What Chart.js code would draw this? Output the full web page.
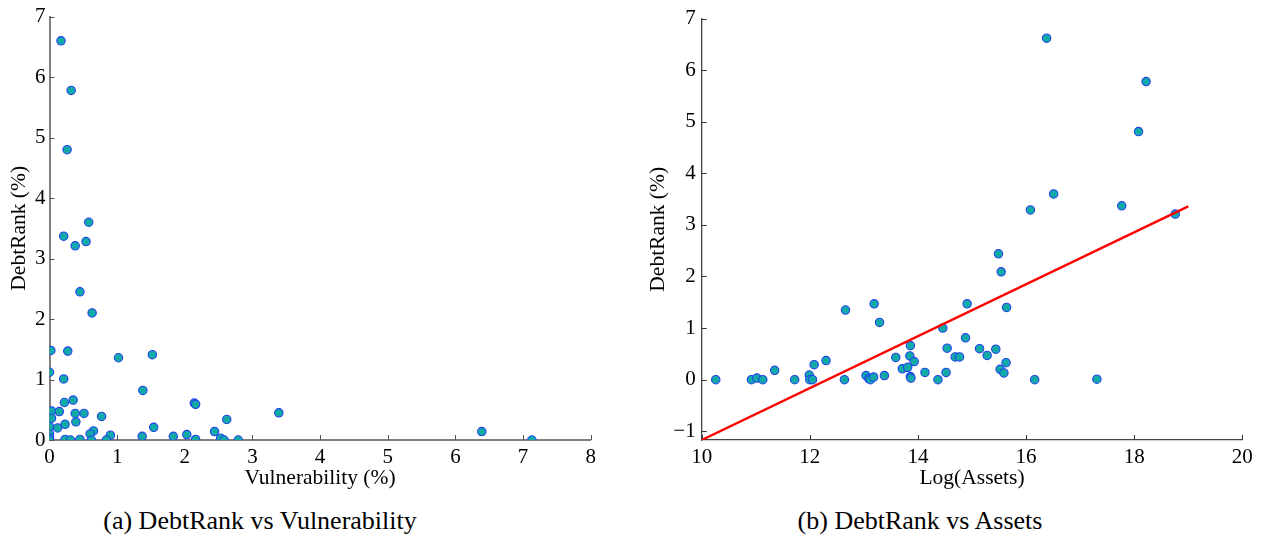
<!DOCTYPE html>
<html>
<head>
<meta charset="utf-8">
<script src="https://cdn.jsdelivr.net/npm/chart.js@4/dist/chart.umd.min.js"></script>
<style>
  html, body { margin: 0; padding: 0; background: #fff; }
  body { width: 1267px; height: 538px; position: relative; overflow: hidden; font-family: "Liberation Serif", serif; }
  canvas { position: absolute; top: 0; }
  #chartA { left: 0; }
  #chartB { left: 630px; }
  .caption { position: absolute; top: 506px; height: 30px; line-height: 30px; font-size: 26px; text-align: center; color: #000; white-space: nowrap; }
</style>
</head>
<body>
<canvas id="chartA" width="620" height="495"></canvas>
<canvas id="chartB" width="637" height="495"></canvas>
<div class="caption" style="left:60px;width:400px;">(a) DebtRank vs Vulnerability</div>
<div class="caption" style="left:720px;width:400px;">(b) DebtRank vs Assets</div>

<script>
// ===== DATA =====
// (a) DebtRank vs Vulnerability
const vulnX = [0.17, 0.32, 0.26, 0.58, 0.21, 0.54, 0.38, 0.45, 0.63, 0.02,
               0.27, 1.02, 1.52, 0.00, 0.21, 1.38, 2.14, 2.16, 3.39, 6.39,
               7.13, 2.62, 1.54, 0.77, 0.22, 0.35, 0.03, 0.145, 0.38, 0.51,
               0.03, 0.39, 0.23, 0.00, 0.12, 0.65, 0.60, 0.90, 1.37, 0.00,
               0.00, 0.00, 0.23, 0.31, 0.45, 0.62, 0.84, 1.83, 2.03, 2.16,
               2.44, 2.53, 2.58, 2.79];
const vulnRank = [6.60, 5.78, 4.80, 3.60, 3.37, 3.28, 3.21, 2.45, 2.10, 1.48,
                  1.47, 1.36, 1.41, 1.12, 1.01, 0.82, 0.61, 0.59, 0.45, 0.14,
                  0.00, 0.34, 0.21, 0.39, 0.62, 0.66, 0.48, 0.47, 0.44, 0.44,
                  0.36, 0.30, 0.26, 0.22, 0.20, 0.15, 0.10, 0.08, 0.06, 0.10,
                  0.03, 0.00, 0.01, 0.00, 0.01, 0.00, 0.00, 0.06, 0.09, 0.01,
                  0.14, 0.03, 0.00, 0.00];

// (b) DebtRank vs Assets
const assetsX = [10.26, 10.92, 11.02, 11.13, 11.35, 11.72, 11.99, 12.00, 12.05, 12.08,
                 12.30, 12.66, 12.64, 13.19, 13.29, 13.04, 13.09, 13.12, 13.18, 13.38,
                 13.59, 13.71, 13.81, 13.86, 13.85, 13.93, 13.86, 13.87, 14.13, 14.37,
                 14.46, 14.54, 14.52, 14.69, 14.77, 14.88, 14.91, 15.14, 15.28, 15.44,
                 15.49, 15.54, 15.64, 15.63, 15.52, 15.59, 16.16, 17.31, 16.08, 16.38,
                 16.51, 17.77, 18.08, 18.22, 18.76];
const assetsRank = [0.00, 0.00, 0.03, 0.00, 0.18, 0.00, 0.09, 0.00, 0.00, 0.29,
                    0.37, 1.35, 0.00, 1.47, 1.11, 0.08, 0.02, 0.00, 0.05, 0.08,
                    0.43, 0.21, 0.24, 0.66, 0.46, 0.35, 0.06, 0.03, 0.14, 0.00,
                    1.00, 0.61, 0.14, 0.44, 0.44, 0.81, 1.47, 0.60, 0.47, 0.59,
                    2.44, 2.09, 1.40, 0.33, 0.20, 0.13, 0.00, 0.01, 3.29, 6.62,
                    3.60, 3.37, 4.81, 5.78, 3.21];
const fitX = [10, 19];
const fitY = [-1.17, 3.36];

// tick labels
const xTicksA = [0, 1, 2, 3, 4, 5, 6, 7, 8];
const yTicksA = [0, 1, 2, 3, 4, 5, 6, 7];
const xTicksB = [10, 12, 14, 16, 18, 20];
const yTicksB = [-1, 0, 1, 2, 3, 4, 5, 6, 7];

const toPoints = (xs, ys) => xs.map((x, i) => ({ x, y: ys[i] }));
const fmtTick = v => v < 0 ? '\u2212' + Math.abs(v) : String(v);

const SERIF = '"Liberation Serif", "Times New Roman", serif';
const MARKER_FILL = '#12aaa6';
const MARKER_EDGE = '#2340f0';

// inward tick marks (MATLAB style), positions come from the scales
const inwardTicks = {
  id: 'inwardTicks',
  beforeDatasetsDraw(chart, args, opts) {
    const { ctx, chartArea, scales } = chart;
    const len = opts.len || 5;
    ctx.save();
    ctx.strokeStyle = opts.color;
    ctx.lineWidth = opts.width;
    ctx.beginPath();
    scales.x.ticks.forEach(t => {
      const px = Math.round(scales.x.getPixelForValue(t.value)) + 0.5;
      ctx.moveTo(px, chartArea.bottom);
      ctx.lineTo(px, chartArea.bottom - len);
    });
    scales.y.ticks.forEach(t => {
      const py = Math.round(scales.y.getPixelForValue(t.value)) + 0.5;
      ctx.moveTo(chartArea.left, py);
      ctx.lineTo(chartArea.left + len, py);
    });
    ctx.stroke();
    ctx.restore();
  }
};

function axis(cfg) {
  return {
    type: 'linear',
    min: cfg.min,
    max: cfg.max,
    afterBuildTicks: s => { s.ticks = cfg.ticks.map(v => ({ value: v })); },
    afterFit: cfg.afterFit,
    grid: { display: false, drawTicks: false },
    border: { display: true, color: cfg.color, width: cfg.width },
    ticks: { color: '#000', padding: cfg.pad, font: { family: SERIF, size: 21 }, callback: fmtTick },
    title: { display: true, text: cfg.title, color: '#000', padding: 0, font: { family: SERIF, size: 21.5 } }
  };
}

function baseOptions(pad, xAxis, yAxis, tickColor, tickWidth) {
  return {
    responsive: false,
    animation: false,
    devicePixelRatio: 1,
    layout: { padding: pad },
    plugins: {
      legend: { display: false },
      tooltip: { enabled: false },
      inwardTicks: { color: tickColor, width: tickWidth, len: 5 }
    },
    scales: { x: xAxis, y: yAxis }
  };
}

// ===== (a) =====
new Chart(document.getElementById('chartA'), {
  type: 'scatter',
  data: {
    datasets: [{
      data: toPoints(vulnX, vulnRank),
      pointRadius: 4.2,
      pointBorderWidth: 1.1,
      pointBackgroundColor: MARKER_FILL,
      pointBorderColor: MARKER_EDGE
    }]
  },
  options: baseOptions(
    { left: 6.1, top: 14, right: 29.3, bottom: 4.1 },
    axis({ min: 0, max: 8, ticks: xTicksA, title: 'Vulnerability (%)', color: '#808080', width: 2, pad: 5,
           afterFit: s => { s.height = 50.9; } }),
    axis({ min: 0, max: 7, ticks: yTicksA, title: 'DebtRank (%)', color: '#808080', width: 2, pad: 4,
           afterFit: s => { s.width = 43.4; } }),
    '#555', 1
  ),
  plugins: [inwardTicks]
});

// ===== (b) =====
new Chart(document.getElementById('chartB'), {
  type: 'scatter',
  data: {
    datasets: [{
      type: 'line',
      data: toPoints(fitX, fitY),
      borderColor: '#ff0000',
      borderWidth: 2.4,
      pointRadius: 0,
      fill: false,
      order: 0
    }, {
      data: toPoints(assetsX, assetsRank),
      pointRadius: 4.2,
      pointBorderWidth: 1.1,
      pointBackgroundColor: MARKER_FILL,
      pointBorderColor: MARKER_EDGE,
      order: 1
    }]
  },
  options: baseOptions(
    { left: 15.1, top: 14, right: 24.7, bottom: 4.1 },
    axis({ min: 10, max: 20, ticks: xTicksB, title: 'Log(Assets)', color: '#444', width: 1.3, pad: 5,
           afterFit: s => { s.height = 50.9; } }),
    axis({ min: -1.17, max: 7, ticks: yTicksB, title: 'DebtRank (%)', color: '#444', width: 1.3, pad: 6,
           afterFit: s => { s.width = 56.6; } }),
    '#333', 1
  ),
  plugins: [inwardTicks]
});
</script>
</body>
</html>
